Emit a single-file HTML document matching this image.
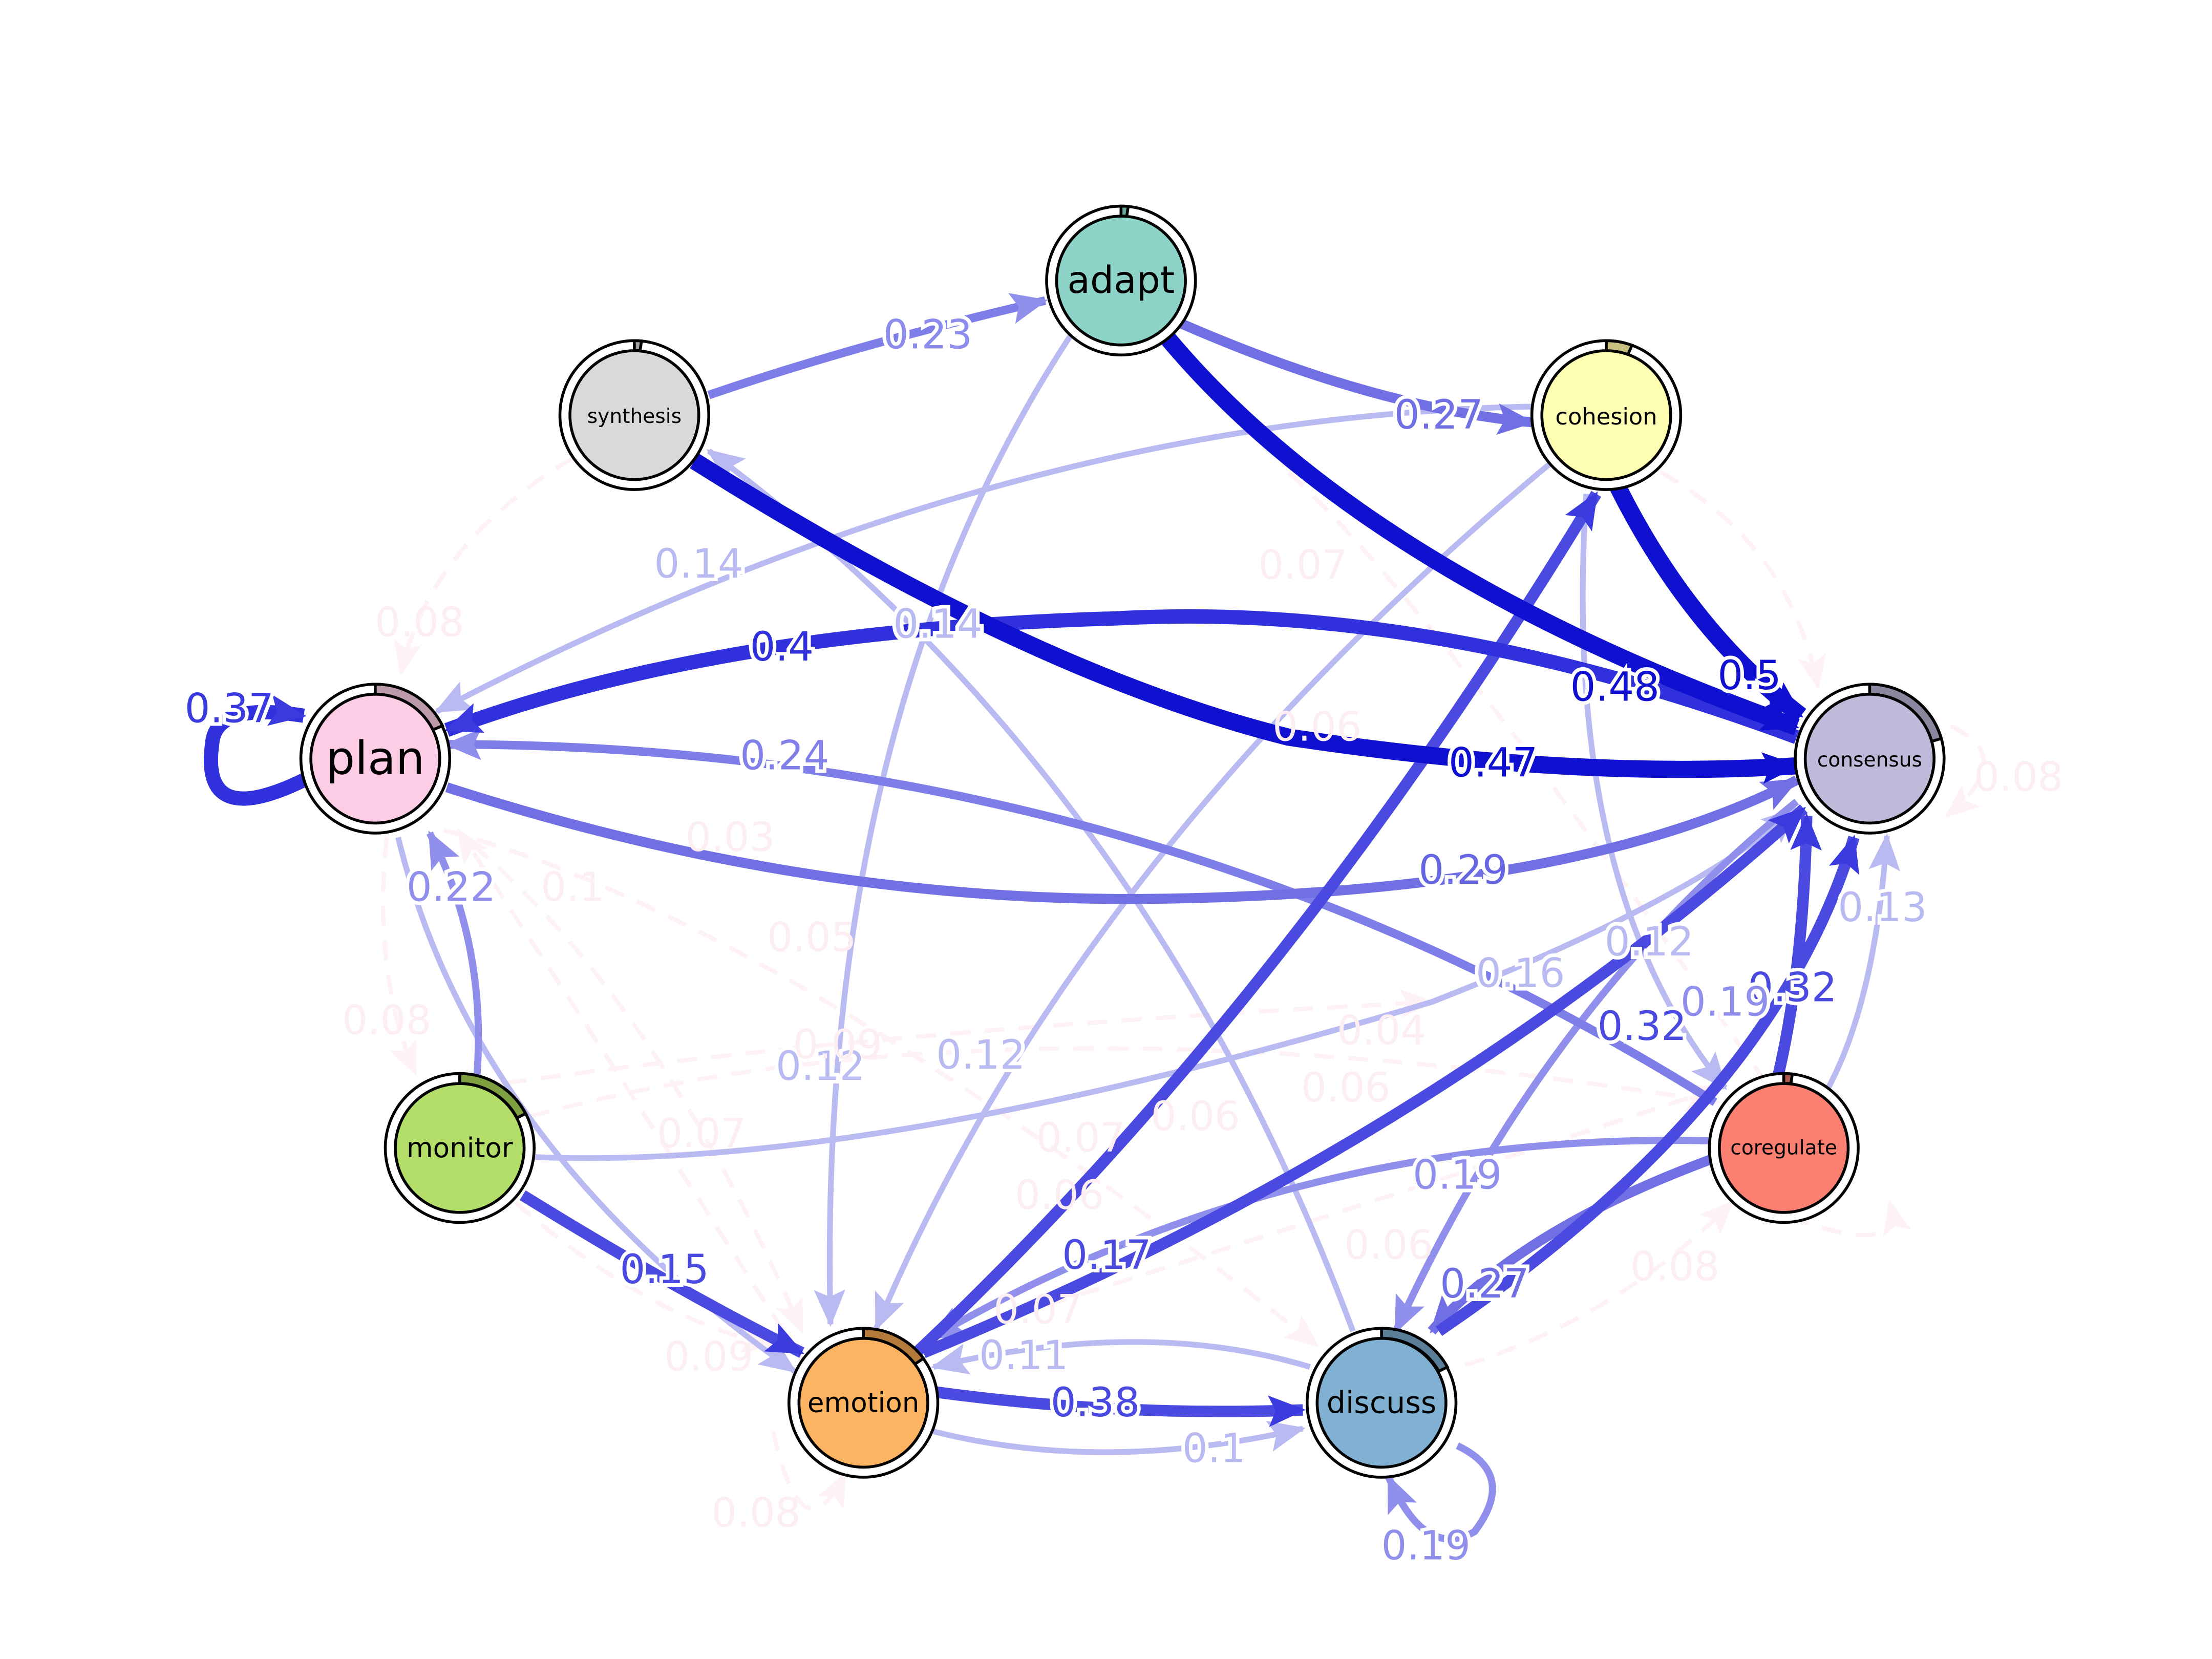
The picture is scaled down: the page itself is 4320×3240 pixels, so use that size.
<!DOCTYPE html>
<html><head><meta charset="utf-8"><style>
html,body{margin:0;padding:0;background:#fff;}
svg{display:block;}
.l{font-family:"DejaVu Sans","Liberation Sans",sans-serif;font-size:28px;text-anchor:middle;dominant-baseline:central;}
.n{font-family:"DejaVu Sans","Liberation Sans",sans-serif;text-anchor:middle;dominant-baseline:central;fill:#000;}
</style></head><body>
<svg width="4320" height="3240" viewBox="0 0 1545 1159" xmlns="http://www.w3.org/2000/svg">
<defs>
<marker id="mD" markerUnits="userSpaceOnUse" markerWidth="26" markerHeight="22" refX="24" refY="11" orient="auto"><path d="M0,0 L26,11 L0,22 L5,11z" fill="#1010d0"/></marker>
<marker id="mB" markerUnits="userSpaceOnUse" markerWidth="26" markerHeight="22" refX="24" refY="11" orient="auto"><path d="M0,0 L26,11 L0,22 L5,11z" fill="#3a3ade"/></marker>
<marker id="mM" markerUnits="userSpaceOnUse" markerWidth="26" markerHeight="22" refX="24" refY="11" orient="auto"><path d="M0,0 L26,11 L0,22 L5,11z" fill="#7070e4"/></marker>
<marker id="mS" markerUnits="userSpaceOnUse" markerWidth="26" markerHeight="22" refX="24" refY="11" orient="auto"><path d="M0,0 L26,11 L0,22 L5,11z" fill="#9090ec"/></marker>
<marker id="mL" markerUnits="userSpaceOnUse" markerWidth="26" markerHeight="22" refX="24" refY="11" orient="auto"><path d="M0,0 L26,11 L0,22 L5,11z" fill="#babaf2"/></marker>
<marker id="mP" markerUnits="userSpaceOnUse" markerWidth="24" markerHeight="20" refX="22" refY="10" orient="auto"><path d="M0,0 L24,10 L0,20 L5,10z" fill="#fff2f4"/></marker>
</defs>
<rect width="1545" height="1159" fill="#fff"/>

<g fill="none" stroke="#fff2f4" stroke-width="3" stroke-dasharray="14,10" marker-end="url(#mP)">
<path d="M400,320 Q300,380 280,470"/>
<path d="M270,585 Q260,680 290,750"/>
<path d="M330,590 Q460,700 560,930"/>
<path d="M310,580 Q540,640 920,940"/>
<path d="M370,780 Q700,690 1200,770"/>
<path d="M360,840 Q450,920 540,940"/>
<path d="M540,1000 Q560,1090 590,1030"/>
<path d="M1340,500 Q1420,520 1360,570"/>
<path d="M1000,960 Q1120,930 1210,840"/>
<path d="M900,330 Q1000,420 1250,780"/>
<path d="M1160,330 Q1250,380 1270,480"/>
<path d="M1250,850 Q1330,880 1320,840"/>
<path d="M640,940 Q900,860 1200,760"/>
<path d="M330,760 Q600,720 1000,700"/>
<path d="M560,950 Q400,700 320,580"/>
</g>

<g fill="none" stroke="#babaf2" stroke-width="4" marker-end="url(#mL)">
<path d="M1072,284 Q700,290 305,497"/>
<path d="M752,228 Q570,500 580,925"/>
<path d="M945,930 Q800,540 495,315"/>
<path d="M1085,322 Q750,600 612,928"/>
<path d="M1108,345 Q1090,620 1205,760"/>
<path d="M1276,762 Q1310,700 1318,584"/>
<path d="M278,585 Q330,800 555,958"/>
<path d="M915,955 Q800,920 652,955"/>
<path d="M652,1000 Q770,1030 910,998"/>
<path d="M366,808 Q600,820 1000,700 Q1180,630 1255,565"/>
</g>
<g fill="none" stroke="#9090ec" stroke-width="5" marker-end="url(#mS)">
<path d="M1195,797 Q900,790 650,935"/>
<path d="M1255,560 Q1080,700 975,930"/>
<path d="M333,752 Q340,660 300,582"/>
<path d="M1018,1010 Q1060,1030 1030,1070 Q995,1090 970,1032"/>
</g>
<g fill="none" stroke="#7e7ee8" stroke-width="6" marker-end="url(#mS)">
<path d="M495,276 Q600,240 730,210"/>
<path d="M1198,770 Q800,520 312,520"/>
</g>
<g fill="none" stroke="#7070e4" stroke-width="7" marker-end="url(#mM)">
<path d="M825,226 Q960,285 1070,295"/>
<path d="M312,550 Q560,630 800,628 Q1100,625 1255,545"/>
<path d="M1195,810 Q1060,860 1000,930"/>
</g>
<g fill="none" stroke="#4a4ae0" stroke-width="8" marker-end="url(#mB)">
<path d="M640,945 Q900,700 1115,345"/>
<path d="M645,945 Q1000,800 1260,565"/>
<path d="M1005,930 Q1240,770 1295,585"/>
<path d="M1240,760 Q1260,680 1262,570"/>
<path d="M365,835 Q470,900 560,945"/>
<path d="M650,972 Q780,990 910,985"/>
</g>
<g fill="none" stroke="#3030dc" stroke-width="10" marker-end="url(#mB)">
<path d="M1255,515 Q1000,420 780,432 Q500,440 312,510"/>
<path d="M212,545 Q140,580 148,520 Q150,490 212,500"/>
</g>
<g fill="none" stroke="#1010d0" stroke-width="12" marker-end="url(#mD)">
<path d="M812,232 Q950,400 1255,508"/>
<path d="M1130,340 Q1180,440 1258,500"/>
<path d="M485,322 Q720,470 900,515 Q1100,545 1255,535"/>
</g>

<g class="l" stroke="#fff" stroke-width="5" paint-order="stroke">
<text x="648" y="234" fill="#8c8cec">0.23</text>
<text x="1005" y="290" fill="#7070e4">0.27</text>
<text x="1128" y="480" fill="#1010d0">0.48</text>
<text x="1222" y="472" fill="#1010d0">0.5</text>
<text x="1043" y="533" fill="#1010d0">0.47</text>
<text x="546" y="452" fill="#3030dc">0.4</text>
<text x="160" y="495" fill="#3a3ade">0.37</text>
<text x="548" y="528" fill="#8080e8">0.24</text>
<text x="1022" y="608" fill="#6666e2">0.29</text>
<text x="488" y="394" fill="#babaf2">0.14</text>
<text x="655" y="436" fill="#babaf2">0.14</text>
<text x="573" y="745" fill="#babaf2">0.12</text>
<text x="685" y="737" fill="#babaf2">0.12</text>
<text x="773" y="877" fill="#4a4ae0">0.17</text>
<text x="315" y="620" fill="#9090ec">0.22</text>
<text x="464" y="887" fill="#4a4ae0">0.15</text>
<text x="1062" y="680" fill="#babaf2">0.16</text>
<text x="1315" y="634" fill="#babaf2">0.13</text>
<text x="1152" y="658" fill="#babaf2">0.12</text>
<text x="1252" y="690" fill="#4a4ae0">0.32</text>
<text x="1147" y="717" fill="#4a4ae0">0.32</text>
<text x="1205" y="700" fill="#9090ec">0.19</text>
<text x="1018" y="821" fill="#9090ec">0.19</text>
<text x="1037" y="897" fill="#7070e4">0.27</text>
<text x="765" y="980" fill="#4a4ae0">0.38</text>
<text x="848" y="1012" fill="#babaf2">0.1</text>
<text x="715" y="947" fill="#babaf2">0.11</text>
<text x="996" y="1080" fill="#9090ec">0.19</text>
</g>
<g class="l" fill="#fdeef1">
<text x="293" y="435">0.08</text>
<text x="270" y="713">0.08</text>
<text x="400" y="620">0.1</text>
<text x="510" y="585">0.03</text>
<text x="567" y="655">0.05</text>
<text x="585" y="730">0.09</text>
<text x="490" y="792">0.07</text>
<text x="755" y="795">0.07</text>
<text x="740" y="835">0.06</text>
<text x="835" y="780">0.06</text>
<text x="940" y="760">0.06</text>
<text x="965" y="720">0.04</text>
<text x="920" y="508">0.06</text>
<text x="910" y="395">0.07</text>
<text x="1410" y="543">0.08</text>
<text x="1170" y="885">0.08</text>
<text x="495" y="948">0.09</text>
<text x="528" y="1057">0.08</text>
<text x="725" y="915">0.07</text>
<text x="970" y="870">0.06</text>
</g>

<g stroke="#000" stroke-width="2">
<circle cx="783" cy="196" r="52" fill="#fff"/><path d="M783,144 A52,52 0 0 1 788,144.2 L787,151 A45,45 0 0 0 783,151z" fill="#6aa89e"/><circle cx="783" cy="196" r="45" fill="#8dd3c7"/>
<circle cx="443" cy="290" r="52" fill="#fff"/><path d="M443,238 A52,52 0 0 1 448,238.2 L447,245 A45,45 0 0 0 443,245z" fill="#a0a0a0"/><circle cx="443" cy="290" r="45" fill="#d9d9d9"/>
<circle cx="1122" cy="290" r="52" fill="#fff"/><path d="M1122,238 A52,52 0 0 1 1140,241.2 L1137,248 A45,45 0 0 0 1122,245z" fill="#c8c080"/><circle cx="1122" cy="290" r="45" fill="#ffffb3"/>
<circle cx="262" cy="530" r="52" fill="#fff"/><path d="M262,478 A52,52 0 0 1 309,507 L302,510 A45,45 0 0 0 262,485z" fill="#bd9aaa"/><circle cx="262" cy="530" r="45" fill="#fccde5"/>
<circle cx="1306" cy="530" r="52" fill="#fff"/><path d="M1306,478 A52,52 0 0 1 1356,516 L1349,518 A45,45 0 0 0 1306,485z" fill="#8a879e"/><circle cx="1306" cy="530" r="45" fill="#bebada"/>
<circle cx="321" cy="802" r="52" fill="#fff"/><path d="M321,750 A52,52 0 0 1 367,778 L361,781 A45,45 0 0 0 321,757z" fill="#7fa040"/><circle cx="321" cy="802" r="45" fill="#b3de69"/>
<circle cx="1246" cy="802" r="52" fill="#fff"/><path d="M1246,750 A52,52 0 0 1 1252,750.3 L1251,757 A45,45 0 0 0 1246,757z" fill="#b05a50"/><circle cx="1246" cy="802" r="45" fill="#fb8072"/>
<circle cx="603" cy="980" r="52" fill="#fff"/><path d="M603,928 A52,52 0 0 1 645,949 L639,953 A45,45 0 0 0 603,935z" fill="#b47a3a"/><circle cx="603" cy="980" r="45" fill="#fdb462"/>
<circle cx="965" cy="980" r="52" fill="#fff"/><path d="M965,928 A52,52 0 0 1 1011,955 L1005,958 A45,45 0 0 0 965,935z" fill="#5a7e98"/><circle cx="965" cy="980" r="45" fill="#80b1d3"/>
</g>
<text class="n" x="783" y="196" font-size="26">adapt</text>
<text class="n" x="443" y="291" font-size="14">synthesis</text>
<text class="n" x="1122" y="291" font-size="16">cohesion</text>
<text class="n" x="262" y="530" font-size="32">plan</text>
<text class="n" x="1306" y="531" font-size="14">consensus</text>
<text class="n" x="321" y="802" font-size="19">monitor</text>
<text class="n" x="1246" y="802" font-size="14">coregulate</text>
<text class="n" x="603" y="980" font-size="19">emotion</text>
<text class="n" x="965" y="980" font-size="21">discuss</text>
</svg>
</body></html>
